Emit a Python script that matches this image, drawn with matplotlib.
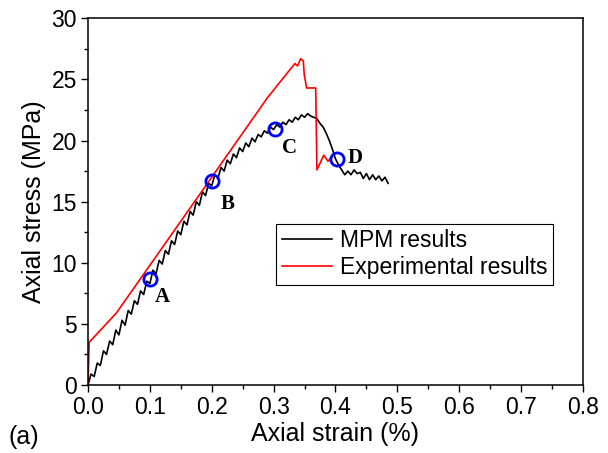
import matplotlib
matplotlib.use("Agg")
import matplotlib.pyplot as plt
from matplotlib.ticker import MultipleLocator

# MPM results (black, sawtooth curve)
mpm_strain = [0.000, 0.005, 0.010, 0.015, 0.020, 0.025, 0.030, 0.035, 0.040, 0.045,
              0.050, 0.055, 0.060, 0.065, 0.070, 0.075, 0.080, 0.085, 0.090, 0.095,
              0.100, 0.105, 0.110, 0.115, 0.120, 0.125, 0.130, 0.135, 0.140, 0.145,
              0.150, 0.155, 0.160, 0.165, 0.170, 0.175, 0.180, 0.185, 0.190, 0.195,
              0.200, 0.205, 0.210, 0.215, 0.220, 0.225, 0.230, 0.235, 0.240, 0.245,
              0.250, 0.255, 0.260, 0.265, 0.270, 0.275, 0.280, 0.285, 0.290, 0.295,
              0.300, 0.305, 0.310, 0.315, 0.320, 0.325, 0.330, 0.335, 0.340, 0.345,
              0.350, 0.355, 0.360, 0.365, 0.370, 0.375, 0.380, 0.385, 0.390, 0.395,
              0.400, 0.405, 0.410, 0.415, 0.420, 0.425, 0.430, 0.435, 0.440, 0.445,
              0.450, 0.455, 0.460, 0.465, 0.470, 0.475, 0.480, 0.485]
mpm_stress = [0.0, 0.9, 0.7, 1.8, 1.6, 2.8, 2.5, 3.6, 3.3, 4.5,
              4.1, 5.3, 4.9, 6.1, 5.8, 6.9, 6.6, 7.7, 7.4, 8.5,
              8.3, 9.4, 9.1, 10.2, 9.9, 11.0, 10.7, 11.8, 11.5, 12.6,
              12.3, 13.4, 13.1, 14.2, 13.9, 15.0, 14.7, 15.8, 15.5, 16.5,
              16.3, 17.2, 16.9, 17.8, 17.5, 18.4, 18.1, 18.9, 18.6, 19.4,
              19.1, 19.8, 19.5, 20.2, 19.9, 20.5, 20.3, 20.8, 20.6, 21.1,
              20.9, 21.3, 21.1, 21.5, 21.3, 21.7, 21.5, 21.9, 21.7, 22.1,
              21.9, 22.2, 22.0, 21.9, 21.8, 21.4, 21.1, 20.6, 20.0, 19.3,
              18.5, 18.0, 17.6, 17.2, 17.5, 17.2, 17.6, 17.3, 17.4, 16.9,
              17.3, 16.8, 17.2, 16.8, 17.1, 16.7, 17.0, 16.5]

# Experimental results (red)
exp_strain = [0.000, 0.002, 0.046, 0.200, 0.290, 0.3344, 0.3387, 0.3436, 0.348, 0.3495,
              0.3533, 0.368, 0.370, 0.381, 0.388, 0.393]
exp_stress = [0.0, 3.5, 5.9, 17.0, 23.5, 26.3, 26.1, 26.7, 26.5, 25.4,
              24.3, 24.3, 17.6, 18.8, 18.3, 18.6]

# Marked points
pt_labels = ["A", "B", "C", "D"]
pt_strain = [0.100, 0.200, 0.302, 0.402]
pt_stress = [8.7, 16.7, 20.95, 18.5]
lbl_strain = [0.120, 0.225, 0.325, 0.432]
lbl_stress = [7.2, 14.8, 19.4, 18.6]

fig = plt.figure(figsize=(6.08, 4.53), dpi=100)
ax = fig.add_axes([0.1447, 0.150, 0.8142, 0.8096])

ax.plot(mpm_strain, mpm_stress, color="black", lw=1.2, label="MPM results")
ax.plot(exp_strain, exp_stress, color="red", lw=1.2, label="Experimental results")
ax.plot(pt_strain, pt_stress, linestyle="none", marker="o", markersize=9.5,
        markerfacecolor="none", markeredgecolor="#0000ff", markeredgewidth=2.0)
for t, x, y in zip(pt_labels, lbl_strain, lbl_stress):
    ax.text(x, y, t, family="Liberation Serif", fontweight="bold", fontsize=15,
            ha="center", va="center")

ax.set_xlim(0, 0.8)
ax.set_ylim(0, 30)
ax.xaxis.set_major_locator(MultipleLocator(0.1))
ax.xaxis.set_minor_locator(MultipleLocator(0.05))
ax.yaxis.set_major_locator(MultipleLocator(5))
ax.yaxis.set_minor_locator(MultipleLocator(2.5))
ax.set_xticklabels([f"{v:.1f}" for v in ax.get_xticks()])
ax.tick_params(which="major", direction="out", length=5, width=1, labelsize=16.5,
               top=False, right=False, pad=3)
ax.tick_params(which="minor", direction="out", length=3, width=1,
               top=False, right=False)
for lbl in ax.get_xticklabels() + ax.get_yticklabels():
    lbl.set_family("Liberation Sans")
for s in ax.spines.values():
    s.set_linewidth(1.1)

ax.set_xlabel("Axial strain (%)", family="Liberation Sans", fontsize=18, labelpad=2)
ax.set_ylabel("Axial stress (MPa)", family="Liberation Sans", fontsize=18, labelpad=4)
fig.text(0.014, 0.035, "(a)", family="Liberation Sans", fontsize=18, ha="left", va="center")

leg = ax.legend(loc="upper left", bbox_to_anchor=(0.38, 0.44), frameon=True,
                fancybox=False, edgecolor="black", framealpha=1,
                prop={"family": "Liberation Sans", "size": 16.5},
                handlelength=2.2, handletextpad=0.35, borderpad=0.25,
                labelspacing=0.15, borderaxespad=0)
leg.get_frame().set_linewidth(0.8)

fig.savefig("out.png", dpi=100)
